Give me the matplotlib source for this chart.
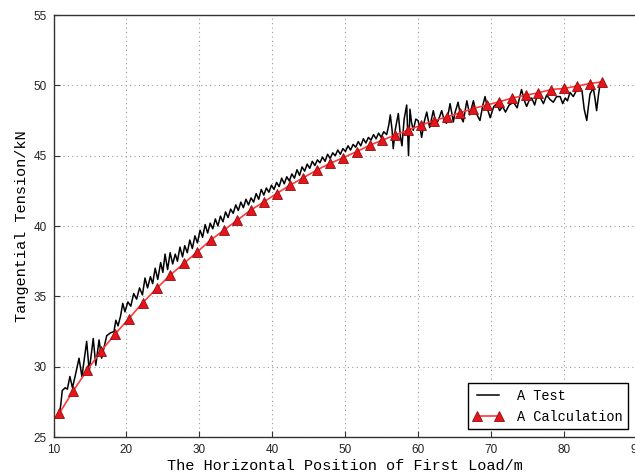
import matplotlib
matplotlib.use("Agg")
import matplotlib.pyplot as plt

# Calculation series (red triangles)
calc_x = [10.80, 12.72, 14.64, 16.56, 18.48, 20.31, 22.23, 24.15, 25.98, 27.90,
          29.73, 31.56, 33.39, 35.22, 37.05, 38.88, 40.61, 42.44, 44.27, 46.10,
          47.93, 49.76, 51.59, 53.42, 55.11, 56.84, 58.67, 60.41, 62.24, 64.02,
          65.76, 67.59, 69.42, 71.11, 72.94, 74.77, 76.51, 78.24, 80.07, 81.81,
          83.59, 85.28]
calc_y = [26.68, 28.29, 29.76, 31.13, 32.34, 33.40, 34.54, 35.56, 36.50, 37.34,
          38.17, 39.00, 39.71, 40.42, 41.13, 41.72, 42.31, 42.90, 43.43, 43.97,
          44.45, 44.86, 45.29, 45.75, 46.10, 46.46, 46.82, 47.17, 47.50, 47.76,
          48.05, 48.35, 48.60, 48.83, 49.10, 49.30, 49.47, 49.70, 49.78, 49.95,
          50.13, 50.25]

# Test series (black line)
test_x = [10.8, 11.0, 11.2, 11.6, 11.9, 12.25, 12.6, 13.0, 13.5, 13.9,
          14.55, 14.9, 15.45, 15.8, 16.25, 16.6, 16.9, 17.3, 17.8, 18.3,
          18.55, 18.85, 19.2, 19.5, 19.8, 20.2, 20.6, 21.0, 21.4, 21.8,
          22.2, 22.55, 22.9, 23.3, 23.6, 23.95, 24.3, 24.7, 25.0, 25.3,
          25.65, 26.0, 26.35, 26.7, 27.0, 27.35, 27.7, 28.0, 28.35, 28.7,
          29.05, 29.4, 29.75, 30.1, 30.45, 30.8, 31.15, 31.5, 31.85, 32.2,
          32.55, 32.9, 33.25, 33.6, 33.95, 34.3, 34.65, 35.0, 35.35, 35.7,
          36.05, 36.4, 36.75, 37.1, 37.45, 37.8, 38.15, 38.5, 38.85, 39.2,
          39.55, 39.9, 40.25, 40.6, 40.95, 41.3, 41.65, 42.0, 42.35, 42.7,
          43.05, 43.4, 43.75, 44.1, 44.45, 44.8, 45.15, 45.5, 45.85, 46.2,
          46.55, 46.9, 47.25, 47.6, 47.95, 48.3, 48.65, 49.0, 49.35, 49.7,
          50.05, 50.4, 50.75, 51.1, 51.45, 51.8, 52.15, 52.5, 52.85, 53.2,
          53.55, 53.9, 54.25, 54.6, 54.95, 55.3, 55.7, 56.0, 56.2, 56.45,
          56.6, 56.9, 57.3, 57.6, 57.8, 58.1, 58.45, 58.6, 58.7, 58.9,
          59.1, 59.35, 59.7, 60.0, 60.3, 60.5, 60.85, 61.2, 61.6, 62.1,
          62.5, 62.85, 63.25, 63.6, 63.9, 64.4, 64.85, 65.1, 65.5, 65.85,
          66.2, 66.7, 67.1, 67.6, 68.0, 68.5, 68.9, 69.2, 69.6, 69.9,
          70.4, 70.8, 71.2, 71.6, 72.0, 72.5, 73.1, 73.6, 74.2, 74.6,
          74.9, 75.3, 75.6, 76.0, 76.5, 76.9, 77.2, 77.65, 78.1, 78.56,
          79.0, 79.5, 79.85, 80.2, 80.5, 80.85, 81.3, 81.7, 82.2, 82.5,
          82.8, 83.15, 83.4, 83.6, 84.05, 84.3, 84.5, 84.75, 84.95, 85.2]
test_y = [26.6, 27.3, 28.3, 28.5, 28.4, 29.3, 28.5, 29.4, 30.6, 29.3,
          31.8, 29.7, 32.0, 30.1, 31.9, 30.6, 31.3, 32.2, 32.4, 32.5,
          33.3, 32.9, 33.6, 34.5, 33.9, 34.6, 34.3, 35.2, 34.8, 35.6,
          35.1, 36.3, 35.6, 36.4, 35.9, 37.0, 36.2, 37.4, 36.7, 38.0,
          36.9, 38.1, 37.3, 38.0, 37.5, 38.5, 37.8, 38.6, 38.1, 39.0,
          38.4, 39.3, 38.8, 39.7, 39.2, 40.1, 39.5, 40.2, 39.8, 40.5,
          40.0, 40.7, 40.3, 41.0, 40.6, 41.2, 40.9, 41.5, 41.1, 41.7,
          41.3, 41.9, 41.5, 42.0, 41.7, 42.3, 41.9, 42.6, 42.2, 42.7,
          42.4, 42.9, 42.6, 43.1, 42.8, 43.4, 43.0, 43.5, 43.2, 43.7,
          43.4, 44.0, 43.6, 44.2, 43.9, 44.4, 44.1, 44.6, 44.3, 44.7,
          44.5, 44.9, 44.6, 45.1, 44.8, 45.2, 45.0, 45.4, 45.1, 45.5,
          45.3, 45.7, 45.4, 45.8, 45.6, 46.0, 45.7, 46.2, 45.9, 46.3,
          46.1, 46.5, 46.2, 46.6, 46.3, 46.7, 46.5, 47.2, 47.9, 46.8,
          45.5, 46.9, 48.0, 46.3, 45.7, 47.6, 48.6, 46.5, 45.0, 48.3,
          47.4, 46.8, 47.6, 47.5, 46.9, 46.3, 47.4, 48.1, 47.0, 48.2,
          47.2, 47.6, 48.2, 47.5, 47.3, 48.7, 47.4, 48.1, 48.8, 47.8,
          47.4, 48.9, 47.9, 48.9, 48.0, 47.5, 48.6, 49.2, 48.2, 47.7,
          48.5, 48.7, 48.2, 48.5, 48.1, 48.6, 48.8, 48.4, 49.7, 48.9,
          48.5, 49.0, 49.1, 48.6, 49.6, 49.0, 48.7, 49.3, 49.0, 48.8,
          49.2, 49.2, 48.7, 49.1, 48.9, 49.5, 49.2, 49.6, 49.9, 49.6,
          48.3, 47.5, 48.6, 49.4, 49.8, 49.0, 48.2, 49.3, 50.0, 50.1]

x_ticks = [10, 20, 30, 40, 50, 60, 70, 80, 90]
y_ticks = [25, 30, 35, 40, 45, 50, 55]

W, H = 635, 475
fig = plt.figure(figsize=(W / 100, H / 100), dpi=100)
ax = fig.add_axes([53.5 / W, 1 - 437 / H, (636.7 - 53.5) / W, (437 - 15) / H])

ax.plot(test_x, test_y, color="black", lw=1.1, label="A Test", zorder=3)
ax.plot(calc_x, calc_y, color="#ff3a3a", lw=1.2, marker="^", markersize=7.2,
        markerfacecolor="#e8141c", markeredgecolor="#8a1010", markeredgewidth=0.6,
        label="A Calculation", zorder=4)

ax.set_xlim(10, 90)
ax.set_ylim(25, 55)
ax.set_xticks(x_ticks)
ax.set_yticks(y_ticks)
ax.grid(True, linestyle=(0, (1, 3)), color="#9a9a9a", lw=0.8)
ax.tick_params(direction="in", length=4, width=0.8, colors="#333333",
               labelsize=8.5, pad=5)
for lab in ax.get_xticklabels() + ax.get_yticklabels():
    lab.set_family("Liberation Sans")
    lab.set_color("#222222")
for s in ax.spines.values():
    s.set_color("#333333")
    s.set_linewidth(1.0)

mono = "Liberation Mono"
ax.set_xlabel("The Horizontal Position of First Load/m", family=mono,
              fontsize=11, labelpad=2)
ax.set_ylabel("Tangential Tension/kN", family=mono, fontsize=11, labelpad=3)

leg = ax.legend(loc="lower right", bbox_to_anchor=(0.985, 0.019),
                borderaxespad=0.0,
                prop={"family": mono, "size": 9.8}, numpoints=2,
                fancybox=False, framealpha=1, edgecolor="black",
                handlelength=2.2, borderpad=0.4, labelspacing=0.5,
                handletextpad=1.0)
leg.get_frame().set_linewidth(1.0)

fig.savefig("out.png", dpi=100)
